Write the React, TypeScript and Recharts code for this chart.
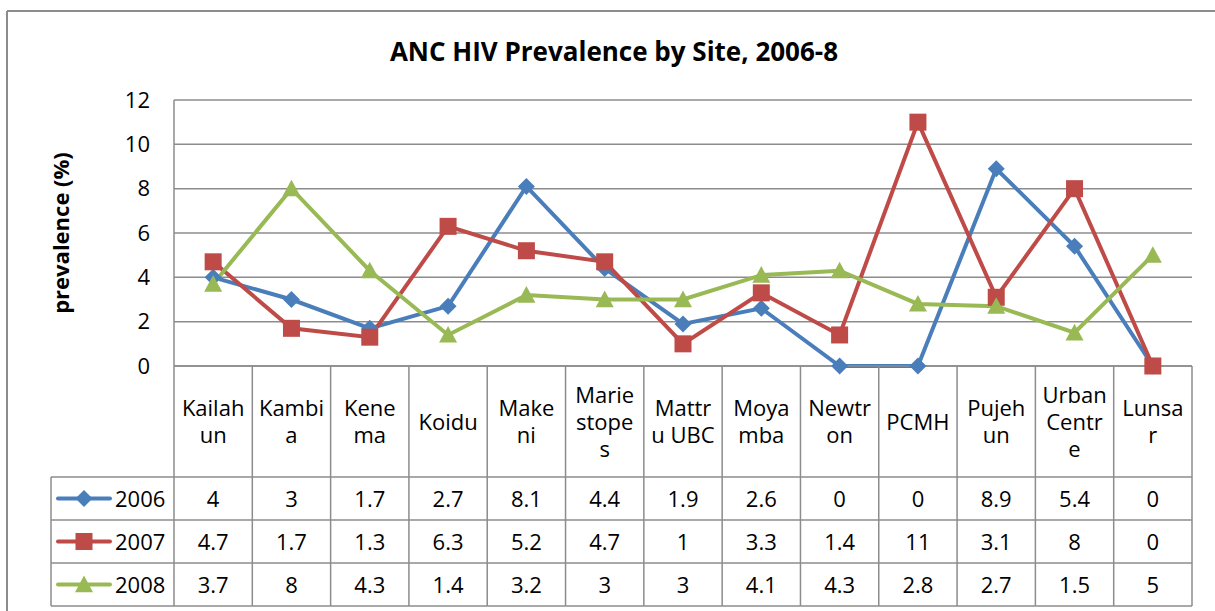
import React from 'react';
import { LineChart, Line, XAxis, YAxis, CartesianGrid, Customized, Label } from 'recharts';

const categories = ['Kailahun', 'Kambia', 'Kenema', 'Koidu', 'Makeni', 'Marie stopes', 'Mattru UBC', 'Moyamba', 'Newtron', 'PCMH', 'Pujehun', 'Urban Centre', 'Lunsar'];
const categoryLabelLines = [['Kailah', 'un'], ['Kambi', 'a'], ['Kene', 'ma'], ['Koidu'], ['Make', 'ni'], ['Marie', 'stope', 's'], ['Mattr', 'u UBC'], ['Moya', 'mba'], ['Newtr', 'on'], ['PCMH'], ['Pujeh', 'un'], ['Urban', 'Centr', 'e'], ['Lunsa', 'r']];
const values2006 = [4, 3, 1.7, 2.7, 8.1, 4.4, 1.9, 2.6, 0, 0, 8.9, 5.4, 0];
const values2007 = [4.7, 1.7, 1.3, 6.3, 5.2, 4.7, 1, 3.3, 1.4, 11, 3.1, 8, 0];
const values2008 = [3.7, 8, 4.3, 1.4, 3.2, 3, 3, 4.1, 4.3, 2.8, 2.7, 1.5, 5];
const seriesNames = ['2006', '2007', '2008'];
const yTicks = [0, 2, 4, 6, 8, 10, 12];
const title = 'ANC HIV Prevalence by Site, 2006-8';
const yLabel = 'prevalence (%)';

const seriesValues = [values2006, values2007, values2008];
const colors = ['#4a7ebb', '#be4b48', '#98b954'];
const shapes = ['diamond', 'square', 'triangle'];

const data = categories.map((c, i) => ({
  name: c,
  s2006: values2006[i],
  s2007: values2007[i],
  s2008: values2008[i],
}));
const keys = ['s2006', 's2007', 's2008'];

const FONT = "'Open Sans', Lato, sans-serif";
const GRID = '#8c8c8c';
const FS = 22;
const BASE = 8;

function Marker({ shape, cx, cy, color }: any) {
  if (cx == null || cy == null) return null;
  if (shape === 'diamond') {
    const r = 8.5;
    return <polygon points={`${cx},${cy - r} ${cx + r},${cy} ${cx},${cy + r} ${cx - r},${cy}`} fill={color} />;
  }
  if (shape === 'square') {
    const r = 8.5;
    return <rect x={cx - r} y={cy - r} width={2 * r} height={2 * r} fill={color} />;
  }
  const r = 9;
  return <polygon points={`${cx},${cy - r} ${cx + r},${cy + r * 0.85} ${cx - r},${cy + r * 0.85}`} fill={color} />;
}

const LABEL_ROW_H = 111;
const ROW_H = 43;
const LEGEND_W = 123;

function TableTick(props: any) {
  const { x, y, payload, index, width } = props;
  const n = categories.length;
  const half = payload && payload.offset > 0 ? payload.offset : width / n / 2;
  const i = typeof index === 'number' ? index : categories.indexOf(payload.value);
  const lines = categoryLabelLines[i] || [payload.value];
  const lh = 27;
  const labelMid = y + LABEL_ROW_H / 2;
  const els: any[] = [];
  const firstY = labelMid - ((lines.length - 1) * lh) / 2 + BASE;
  els.push(
    <text key="lbl" x={x} y={firstY} textAnchor="middle" fontSize={FS} fontFamily={FONT} fill="#000">
      {lines.map((t, k) => (
        <tspan key={k} x={x} dy={k === 0 ? 0 : lh}>{t}</tspan>
      ))}
    </text>
  );
  seriesValues.forEach((vals, r) => {
    const cy = y + LABEL_ROW_H + r * ROW_H + ROW_H / 2;
    els.push(
      <text key={'v' + r} x={x} y={cy + BASE} textAnchor="middle" fontSize={FS} fontFamily={FONT} fill="#000">
        {String(vals[i])}
      </text>
    );
  });
  els.push(<line key="vr" x1={x + half} x2={x + half} y1={y} y2={y + LABEL_ROW_H + 3 * ROW_H} stroke={GRID} strokeWidth={1.5} />);
  for (let r = 0; r <= 3; r++) {
    const yy = y + LABEL_ROW_H + r * ROW_H;
    els.push(<line key={'h' + r} x1={x - half} x2={x + half} y1={yy} y2={yy} stroke={GRID} strokeWidth={1.5} />);
  }
  if (i === 0) {
    const left = x - half;
    els.push(<line key="vl" x1={left} x2={left} y1={y} y2={y + LABEL_ROW_H + 3 * ROW_H} stroke={GRID} strokeWidth={1.5} />);
    els.push(<line key="vleg" x1={left - LEGEND_W} x2={left - LEGEND_W} y1={y + LABEL_ROW_H} y2={y + LABEL_ROW_H + 3 * ROW_H} stroke={GRID} strokeWidth={1.5} />);
    for (let r = 0; r <= 3; r++) {
      const yy = y + LABEL_ROW_H + r * ROW_H;
      els.push(<line key={'hl' + r} x1={left - LEGEND_W} x2={left} y1={yy} y2={yy} stroke={GRID} strokeWidth={1.5} />);
    }
    seriesNames.forEach((nm, r) => {
      const cy = y + LABEL_ROW_H + r * ROW_H + ROW_H / 2;
      const lx = left - LEGEND_W;
      els.push(
        <g key={'leg' + r}>
          <line x1={lx + 7} x2={lx + 59} y1={cy} y2={cy} stroke={colors[r]} strokeWidth={4} strokeLinecap="round" />
          <Marker shape={shapes[r]} cx={lx + 33} cy={cy} color={colors[r]} />
          <text x={lx + 64} y={cy + BASE} fontSize={FS} fontFamily={FONT} fill="#000">{nm}</text>
        </g>
      );
    });
  }
  return <g>{els}</g>;
}

function Decorations() {
  return (
    <g>
      <line x1={7} x2={1215} y1={11} y2={11} stroke={GRID} strokeWidth={2} />
      <line x1={7} x2={7} y1={11} y2={611} stroke={GRID} strokeWidth={2} />
      <text x={614} y={61} textAnchor="middle" fontSize={26} fontWeight="bold" fontFamily={FONT} fill="#000">
        {title}
      </text>
    </g>
  );
}

export default function App() {
  return (
    <div style={{ position: 'absolute', left: 0, top: 0, background: '#fff' }}>
      <LineChart width={1215} height={611} data={data} margin={{ top: 100, right: 23, bottom: 5, left: 114 }}>
        <Customized component={<Decorations />} />
        <CartesianGrid vertical={false} horizontal={true} stroke={GRID} strokeWidth={1.5} />
        <XAxis
          dataKey="name"
          scale="band"
          height={240}
          tickSize={0}
          tickMargin={0}
          interval={0}
          axisLine={{ stroke: GRID, strokeWidth: 1.5 }}
          tickLine={false}
          tick={<TableTick />}
        />
        <YAxis
          width={60}
          domain={[0, 12]}
          ticks={yTicks}
          tickSize={0}
          tickMargin={24}
          axisLine={{ stroke: GRID, strokeWidth: 1.5 }}
          tickLine={false}
          tick={{ fontSize: FS, fontFamily: FONT, fill: '#000' }}
        >
          <Label
            content={(p: any) => {
              const vb = p.viewBox || {};
              const cx = 60;
              const cy = (vb.y || 100) + (vb.height || 266) / 2;
              return (
                <text x={cx} y={cy} transform={`rotate(-90 ${cx} ${cy})`} textAnchor="middle" dominantBaseline="central" fontSize={22} fontWeight="bold" fontFamily={FONT} fill="#000">
                  {yLabel}
                </text>
              );
            }}
          />
        </YAxis>
        {keys.map((k, r) => (
          <Line
            key={k}
            dataKey={k}
            name={seriesNames[r]}
            stroke={colors[r]}
            strokeWidth={4}
            isAnimationActive={false}
            dot={(p: any) => <Marker key={k + p.index} shape={shapes[r]} cx={p.cx} cy={p.cy} color={colors[r]} />}
            activeDot={false}
          />
        ))}
      </LineChart>
    </div>
  );
}
